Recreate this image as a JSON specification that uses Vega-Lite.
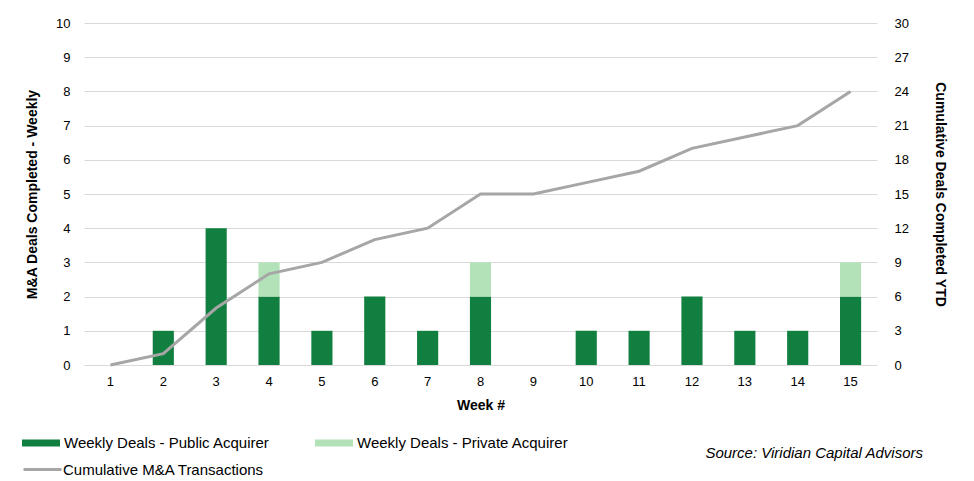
{
  "$schema": "https://vega.github.io/schema/vega-lite/v6.json",
  "width": 793,
  "height": 342,
  "autosize": "none",
  "padding": {"left": 84, "top": 23, "right": 97, "bottom": 116},
  "background": "white",
  "config": {
    "font": "Liberation Sans",
    "view": {"stroke": null},
    "axis": {"labelFont": "Liberation Sans", "titleFont": "Liberation Sans", "labelColor": "#000", "titleColor": "#000", "labelFontSize": 13, "titleFontSize": 14, "titleFontWeight": "bold"},
    "legend": {"labelFont": "Liberation Sans", "labelFontSize": 15, "labelColor": "#000", "labelLimit": 0}
  },
  "title": {
    "text": "Source: Viridian Capital Advisors",
    "orient": "bottom",
    "anchor": "end",
    "frame": "group",
    "fontStyle": "italic",
    "fontWeight": "normal",
    "fontSize": 15,
    "font": "Liberation Sans",
    "color": "#000",
    "offset": -32,
    "dx": 46
  },
  "datasets": {
    "bars": [
      {"week": 1, "type": "Weekly Deals - Public Acquirer", "deals": 0},
      {"week": 2, "type": "Weekly Deals - Public Acquirer", "deals": 1},
      {"week": 3, "type": "Weekly Deals - Public Acquirer", "deals": 4},
      {"week": 4, "type": "Weekly Deals - Public Acquirer", "deals": 2},
      {"week": 4, "type": "Weekly Deals - Private Acquirer", "deals": 1},
      {"week": 5, "type": "Weekly Deals - Public Acquirer", "deals": 1},
      {"week": 6, "type": "Weekly Deals - Public Acquirer", "deals": 2},
      {"week": 7, "type": "Weekly Deals - Public Acquirer", "deals": 1},
      {"week": 8, "type": "Weekly Deals - Public Acquirer", "deals": 2},
      {"week": 8, "type": "Weekly Deals - Private Acquirer", "deals": 1},
      {"week": 9, "type": "Weekly Deals - Public Acquirer", "deals": 0},
      {"week": 10, "type": "Weekly Deals - Public Acquirer", "deals": 1},
      {"week": 11, "type": "Weekly Deals - Public Acquirer", "deals": 1},
      {"week": 12, "type": "Weekly Deals - Public Acquirer", "deals": 2},
      {"week": 13, "type": "Weekly Deals - Public Acquirer", "deals": 1},
      {"week": 14, "type": "Weekly Deals - Public Acquirer", "deals": 1},
      {"week": 15, "type": "Weekly Deals - Public Acquirer", "deals": 2},
      {"week": 15, "type": "Weekly Deals - Private Acquirer", "deals": 1}
    ],
    "cum": [
      {"week": 1, "cumulative": 0},
      {"week": 2, "cumulative": 1},
      {"week": 3, "cumulative": 5},
      {"week": 4, "cumulative": 8},
      {"week": 5, "cumulative": 9},
      {"week": 6, "cumulative": 11},
      {"week": 7, "cumulative": 12},
      {"week": 8, "cumulative": 15},
      {"week": 9, "cumulative": 15},
      {"week": 10, "cumulative": 16},
      {"week": 11, "cumulative": 17},
      {"week": 12, "cumulative": 19},
      {"week": 13, "cumulative": 20},
      {"week": 14, "cumulative": 21},
      {"week": 15, "cumulative": 24}
    ]
  },
  "encoding": {
    "x": {
      "field": "week",
      "type": "ordinal",
      "scale": {"paddingInner": 0.6, "paddingOuter": 0.3},
      "axis": {"title": "Week #", "labelAngle": 0, "ticks": false, "domain": false, "labelPadding": 10, "titlePadding": 10}
    }
  },
  "layer": [
    {
      "data": {"name": "bars"},
      "mark": {"type": "bar"},
      "encoding": {
        "y": {
          "field": "deals",
          "type": "quantitative",
          "stack": "zero",
          "scale": {"domain": [0, 10]},
          "axis": {"title": "M&A Deals Completed - Weekly", "values": [0,1,2,3,4,5,6,7,8,9,10], "ticks": false, "domain": false, "gridColor": "#d9d9d9", "labelPadding": 14, "titlePadding": 16}
        },
        "color": {
          "field": "type",
          "type": "nominal",
          "scale": {"domain": ["Weekly Deals - Public Acquirer", "Weekly Deals - Private Acquirer"], "range": ["#107f3f", "#b3e1b8"]},
          "legend": {"title": null, "orient": "none", "legendX": -62, "legendY": 401, "direction": "horizontal", "columns": 2, "columnPadding": 45, "symbolType": "M-1,-0.18H1V0.18H-1Z", "symbolSize": 1444, "symbolStrokeWidth": 0, "labelOffset": 4}
        },
        "order": {"field": "type", "sort": "descending"}
      }
    },
    {
      "data": {"name": "cum"},
      "mark": {"type": "line", "strokeWidth": 3},
      "encoding": {
        "y": {
          "field": "cumulative",
          "type": "quantitative",
          "scale": {"domain": [0, 30]},
          "axis": {"title": "Cumulative Deals Completed YTD", "orient": "right", "titleAngle": 90, "values": [0,3,6,9,12,15,18,21,24,27,30], "ticks": false, "domain": false, "grid": false, "labelPadding": 17, "titlePadding": 24}
        },
        "stroke": {
          "datum": "Cumulative M&A Transactions",
          "scale": {"range": ["#a6a6a6"]},
          "legend": {"title": null, "orient": "none", "legendX": -62, "legendY": 426, "symbolType": "stroke", "symbolSize": 1444, "symbolStrokeWidth": 3, "labelOffset": 0}
        }
      }
    }
  ],
  "resolve": {"scale": {"y": "independent"}}
}
